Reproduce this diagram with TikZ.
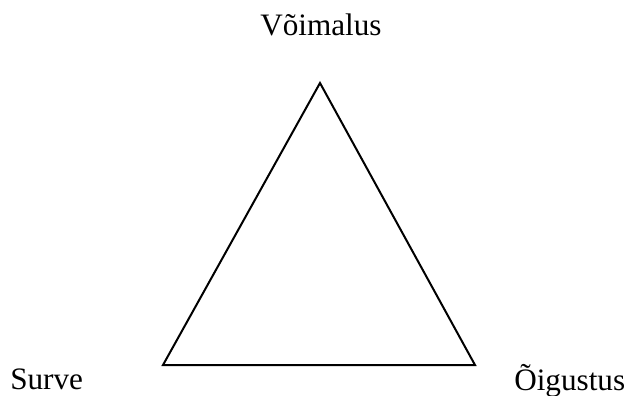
\documentclass[tikz,border=0pt]{standalone}
\usepackage{fontspec}
\setmainfont{Liberation Serif}
\begin{document}
\begin{tikzpicture}[x=0.75pt,y=-0.75pt,
  lbl/.style={font=\fontsize{23.4pt}{28pt}\selectfont, inner sep=0pt, anchor=base west},
  edge/.style={line width=1.5pt, line join=miter}]
\useasboundingbox (0,0) rectangle (629,396);
\coordinate (top) at (320,83);
\coordinate (bl) at (163,365);
\coordinate (br) at (475,365);
\draw[edge] (top) -- (bl) -- (br) -- cycle;
\node[lbl] (v) at (260,36) {Võimalus};
\node[lbl] (s) at (10,389) {Surve};
\node[lbl] (o) at (514,390) {Õigustus};
\end{tikzpicture}
\end{document}
